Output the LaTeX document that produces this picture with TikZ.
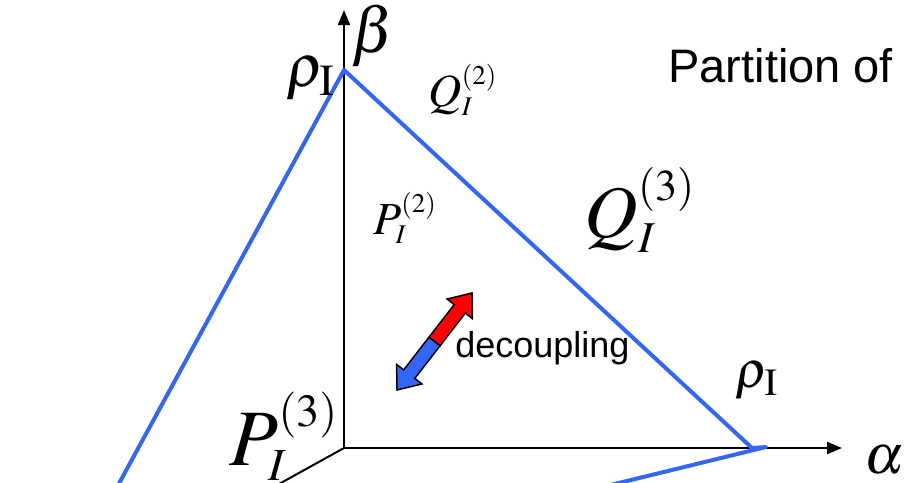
\documentclass[tikz,border=0pt]{standalone}
\usepackage{mathptmx}
\usepackage[no-math]{fontspec}
\newfontfamily\arialfont{Liberation Sans}
\usetikzlibrary{arrows.meta, calc}
\definecolor{LineBlue}{RGB}{51, 102, 255}
\definecolor{ArrowRed}{RGB}{255, 0, 0}
\DeclareMathSizes{37}{37}{22}{15}
\DeclareMathSizes{40}{40}{23}{16}
\DeclareMathSizes{23}{23}{13.5}{10}

\begin{document}
\begin{tikzpicture}[x=0.5pt, y=-0.5pt, >={Triangle[length=7.5pt, width=6pt]},
    axis/.style={line width=1pt, ->},
    blueline/.style={LineBlue, line width=2pt, line join=round},
    bigmath/.style={inner sep=0pt, font=\fontsize{#1}{42}\selectfont},
    midmath/.style={inner sep=0pt, font=\fontsize{23}{26}\selectfont},
    greek/.style={inner sep=0pt, font=\fontsize{#1}{32}\selectfont},
    sanstext/.style={inner sep=0pt, anchor=base west, font=\arialfont\fontsize{#1}{26}\selectfont}]
    \useasboundingbox (0,0) rectangle (905,482);
    \clip (0,0) rectangle (905,482);
    % axes
    \coordinate (O) at (344,448);
    \coordinate (btip) at (344,10);
    \coordinate (atip) at (842,448);
    \coordinate (gend) at (270,489);
    \draw[axis] (O) -- (btip);
    \draw[axis] (O) -- (atip);
    \draw[line width=1pt] (O) -- (gend);
    % simplex edges
    \coordinate (apex) at (344,70);
    \coordinate (corner) at (752,448);
    \coordinate (kink) at (766,447);
    \coordinate (lend) at (110,500);
    \coordinate (rend) at (590,490);
    \draw[blueline] (lend) -- (apex) -- (corner) -- (kink) -- (rend);
    % decoupling arrow
    \coordinate (dA) at (397,390);
    \coordinate (dB) at (472,293);
    \coordinate (dC) at ($(dA)!0.5!(dB)$);
    \foreach \tip/\col in {dB/ArrowRed, dA/LineBlue}{
        \coordinate (hb) at ($(\tip)!10pt!(dC)$);
        \draw[fill=\col, line width=0.75pt, line join=miter]
            ($(dC)!3.5pt!90:(\tip)$) -- ($(hb)!3.5pt!90:(\tip)$) -- ($(hb)!8pt!90:(\tip)$)
            -- (\tip) -- ($(hb)!8pt!-90:(\tip)$) -- ($(hb)!3.5pt!-90:(\tip)$)
            -- ($(dC)!3.5pt!-90:(\tip)$) -- cycle;
    }
    % labels
    \node[greek=32] (beta) at (373,36) {$\beta$};
    \node[greek=28] (alpha) at (884,460) {$\alpha$};
    \node[greek=30] (rhotop) at (311,79) {$\rho_{\mathrm{I}}$};
    \node[greek=26] (rhoright) at (757,381) {$\rho_{\mathrm{I}}$};
    \node[midmath] (qtwo) at (463,90) {$Q_I^{(2)}$};
    \node[midmath] (ptwo) at (405,218) {$P_I^{(2)}$};
    \node[bigmath=37] (qthree) at (640,210) {$Q_I^{(3)}$};
    \node[bigmath=40] (pthree) at (284,436) {$P_I^{(3)}$};
    \node[sanstext=23.5] (title) at (668,82) {Partition of};
    \node[sanstext=18] (dec) at (455,357) {decoupling};
\end{tikzpicture}
\end{document}
